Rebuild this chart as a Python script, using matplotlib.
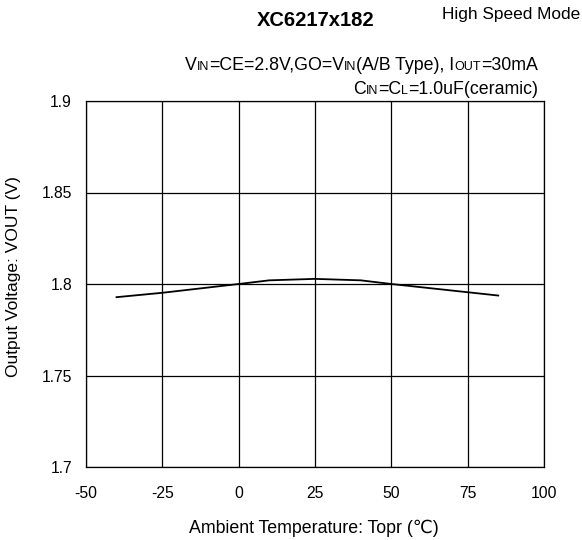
import matplotlib
matplotlib.use("Agg")
import matplotlib.pyplot as plt
from matplotlib.offsetbox import TextArea, HPacker, AnnotationBbox

plt.rcParams['font.family'] = ['Liberation Sans', 'DejaVu Sans']

temps = [-40, -25, 0, 10, 25, 40, 50, 75, 85]
vout = [1.7928, 1.7952, 1.8000, 1.8020, 1.8028, 1.8020, 1.8000, 1.7955, 1.7937]
xticks = [-50, -25, 0, 25, 50, 75, 100]
yticks = [1.7, 1.75, 1.8, 1.85, 1.9]
ytick_labels = ['1.7', '1.75', '1.8', '1.85', '1.9']

W, H = 582, 540
fig = plt.figure(figsize=(W/100, H/100), dpi=100)
ax = fig.add_axes([86/W, 1-467/H, (544-86)/W, (467-101)/H])
ax.plot(temps, vout, color='black', lw=1.3)
ax.set_xlim(-50, 100)
ax.set_ylim(1.7, 1.9)
ax.set_xticks(xticks)
ax.set_xticklabels([str(t) for t in xticks])
ax.set_yticks(yticks)
ax.set_yticklabels(ytick_labels)
ax.grid(True, color='black', lw=0.9)
for s in ax.spines.values():
    s.set_color('black'); s.set_linewidth(0.9)
ax.tick_params(length=0, labelsize=11.3)
ax.tick_params(axis='x', pad=14)
ax.tick_params(axis='y', pad=10)

fig.text(314/W, 1-528/H, 'Ambient Temperature: Topr (\u2103)', fontsize=12.8, ha='center', va='center')
fig.text(14/W, 1-277/H, 'Output Voltage: VOUT (V)', fontsize=12.5, ha='center', va='center', rotation=90)

fig.text(316/W, 1-20/H, 'XC6217x182', fontsize=14.5, fontweight='bold', ha='center', va='center')
fig.text(511/W, 1-15/H, 'High Speed Mode', fontsize=12.4, ha='center', va='center')

def rich(pieces, xy):
    areas = [TextArea(t, textprops=dict(fontsize=s, color='black')) for t, s in pieces]
    box = HPacker(children=areas, align='baseline', pad=0, sep=0)
    ab = AnnotationBbox(box, xy, xycoords='figure pixels', box_alignment=(1, 0.5), frameon=False, pad=0)
    fig.add_artist(ab)

big, small = 12.8, 9
rich([('V', big), ('IN', small), ('=CE=2.8V,GO=V', big), ('IN', small), ('(A/B Type), I', big), ('OUT', small), ('=30mA', big)], (538, H-65))
rich([('C', big), ('IN', small), ('=C', big), ('L', small), ('=1.0uF(ceramic)', big)], (538, H-89))

fig.savefig('out.png', dpi=100)
